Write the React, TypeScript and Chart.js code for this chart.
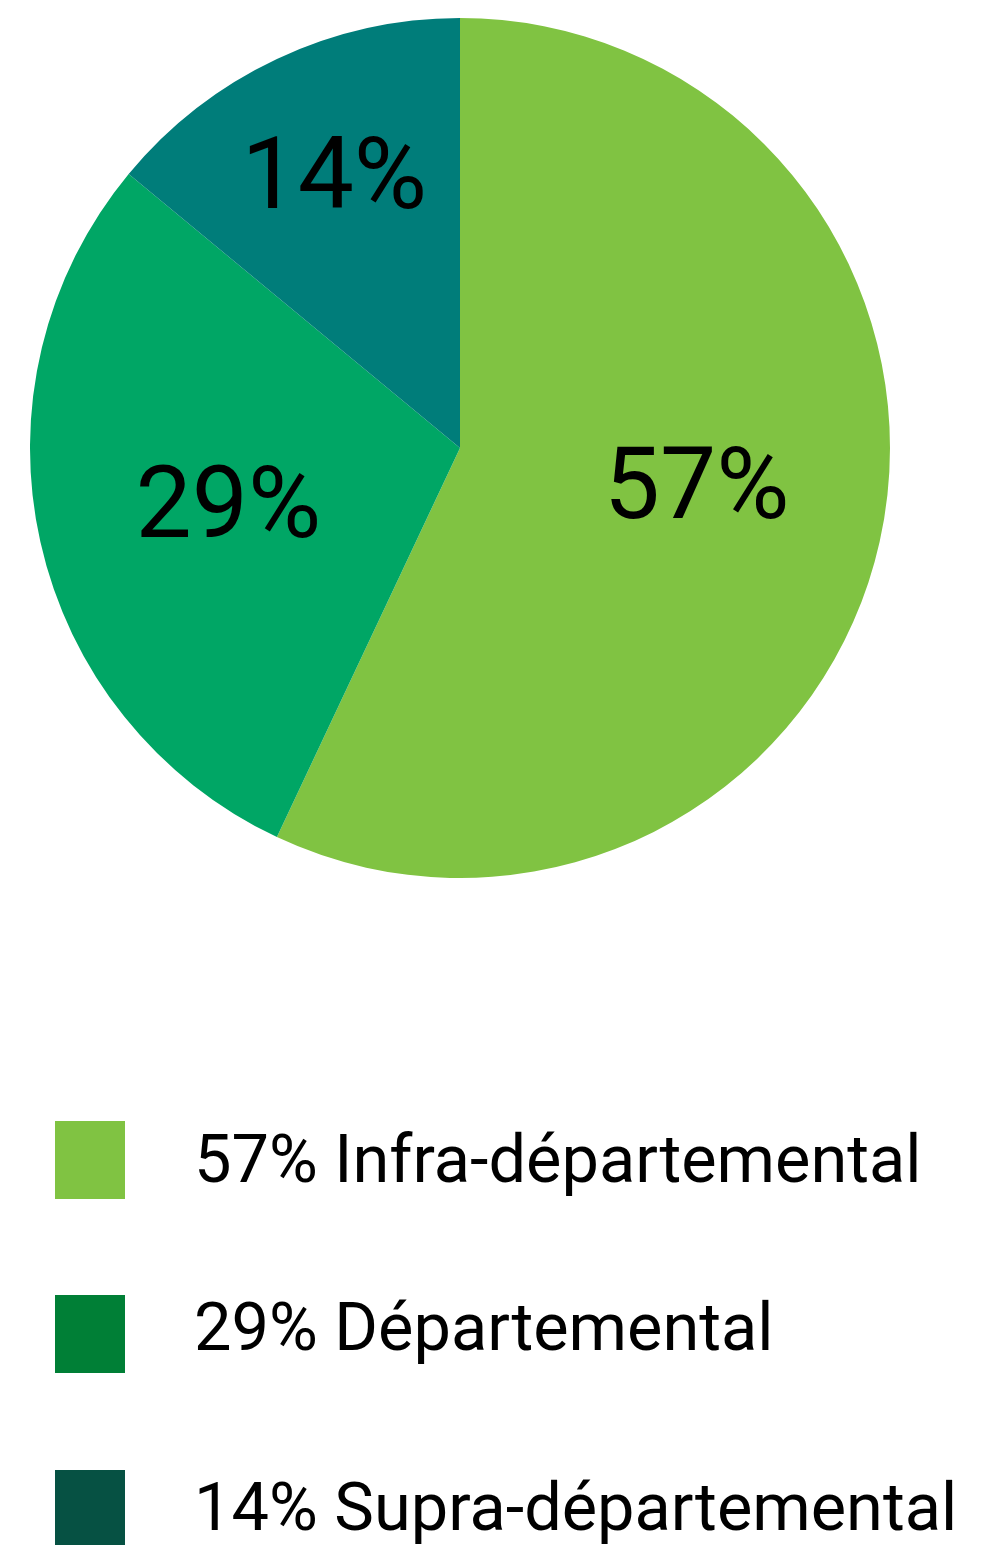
import React, { useEffect, useRef } from "react";
import { Chart, registerables } from "chart.js";

Chart.register(...registerables);

const categories = ["Infra-départemental", "Départemental", "Supra-départemental"];
const values = [57, 29, 14];
const sliceColors = ["#80C342", "#00A665", "#007D7A"];
const legendColors = ["#80C342", "#007F36", "#065143"];
// label placement: fraction of radius, angular shift (degrees)
const labelRadius = [0.556, 0.553, 0.705];
const labelShift = [-4.4, -0.5, 0.7];

const FONT = "Roboto, 'Noto Sans', sans-serif";

const labelPlugin = {
  id: "sliceLabels",
  afterDatasetsDraw(chart: any) {
    const ctx = chart.ctx;
    const meta = chart.getDatasetMeta(0);
    const data = chart.data.datasets[0].data as number[];
    ctx.save();
    ctx.fillStyle = "#000000";
    const size = 100;
    ctx.font = `${size}px ${FONT}`;
    ctx.textAlign = "center";
    ctx.textBaseline = "alphabetic";
    meta.data.forEach((arc: any, i: number) => {
      const p = arc.getProps(["x", "y", "startAngle", "endAngle", "outerRadius"], true);
      const mid = (p.startAngle + p.endAngle) / 2 + (labelShift[i] * Math.PI) / 180;
      const r = p.outerRadius * labelRadius[i];
      const x = p.x + Math.cos(mid) * r;
      const y = p.y + Math.sin(mid) * r;
      ctx.fillText(`${data[i]}%`, x, y + size * 0.355);
    });
    ctx.restore();
  },
};

export default function App() {
  const ref = useRef<HTMLCanvasElement | null>(null);

  useEffect(() => {
    if (!ref.current) return;
    const chart = new Chart(ref.current, {
      type: "pie",
      data: {
        labels: categories,
        datasets: [
          {
            data: values,
            backgroundColor: sliceColors,
            borderWidth: 0,
          },
        ],
      },
      options: {
        responsive: false,
        animation: false,
        events: [],
        layout: { padding: 0 },
        plugins: {
          legend: { display: false },
          tooltip: { enabled: false },
        },
      },
      plugins: [labelPlugin],
    });
    return () => chart.destroy();
  }, []);

  const rowTops = [1121, 1295, 1470];
  const baselines = [1182, 1350, 1530];
  const legendFont = 66.7;

  return (
    <div
      style={{
        position: "absolute",
        left: 0,
        top: 0,
        width: 990,
        height: 1545,
        overflow: "hidden",
        background: "#ffffff",
        fontFamily: FONT,
      }}
    >
      <canvas
        ref={ref}
        width={860}
        height={860}
        style={{ position: "absolute", left: 30, top: 18, width: 860, height: 860 }}
      />
      {categories.map((c, i) => (
        <React.Fragment key={c}>
          <div
            style={{
              position: "absolute",
              left: 55,
              top: rowTops[i],
              width: 70,
              height: 78,
              background: legendColors[i],
            }}
          />
          <div
            style={{
              position: "absolute",
              left: 194,
              top: baselines[i] - 56.2,
              fontSize: legendFont,
              lineHeight: `${legendFont}px`,
              whiteSpace: "nowrap",
              color: "#000000",
            }}
          >
            {`${values[i]}% ${c}`}
          </div>
        </React.Fragment>
      ))}
    </div>
  );
}
